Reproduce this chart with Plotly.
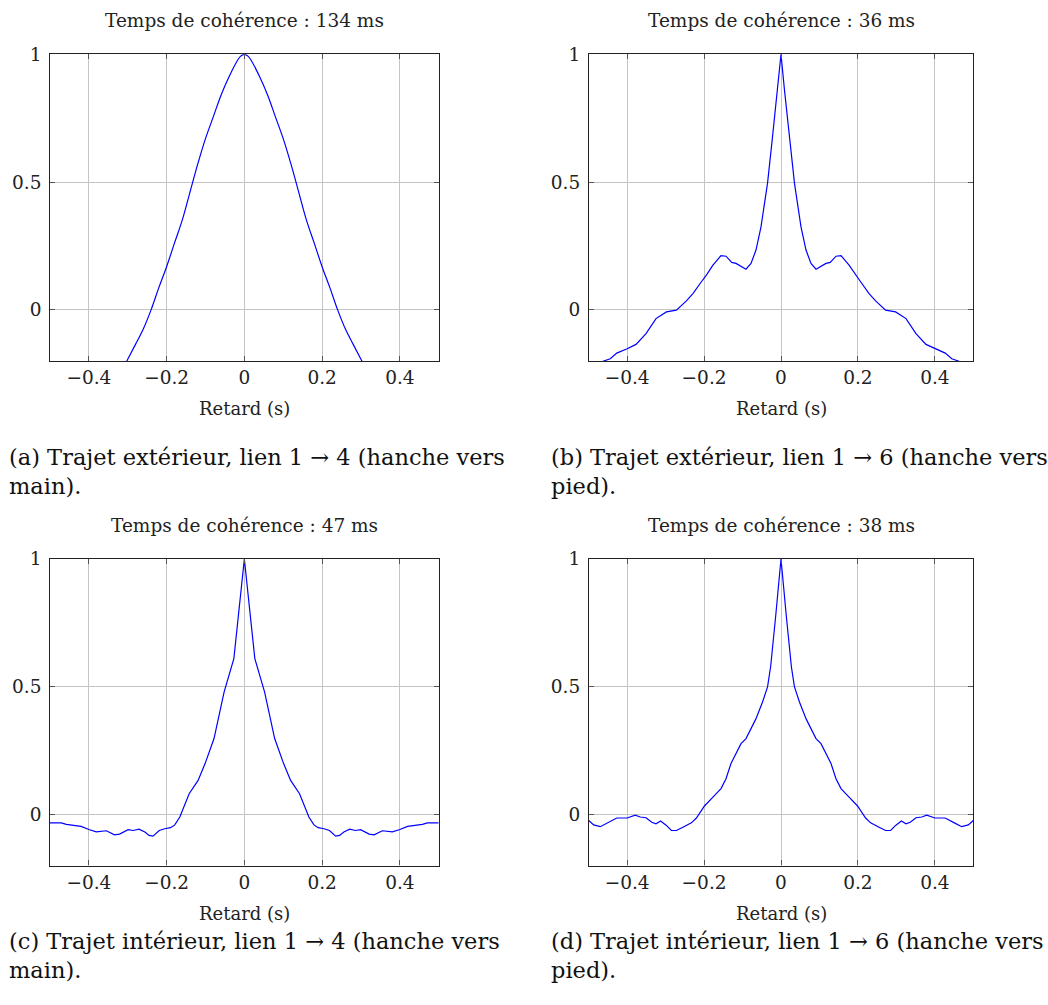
import plotly.graph_objects as go

W, H = 1048, 1005

# ---------------- data ----------------
xa = [-0.34, -0.32, -0.30, -0.28, -0.26, -0.24, -0.22, -0.20, -0.18, -0.16, -0.14, -0.12, -0.10, -0.08,
      -0.06, -0.04, -0.02, -0.01, 0.0, 0.01, 0.02, 0.04, 0.06, 0.08, 0.10, 0.12, 0.14, 0.16, 0.18, 0.20,
      0.22, 0.24, 0.26, 0.28, 0.30, 0.32, 0.34]
ya = [-0.30, -0.25, -0.193, -0.135, -0.075, 0.0, 0.087, 0.169, 0.26, 0.35, 0.46, 0.57, 0.67, 0.755,
      0.84, 0.91, 0.97, 0.992, 1.0, 0.992, 0.97, 0.91, 0.84, 0.755, 0.67, 0.57, 0.46, 0.35, 0.26, 0.169,
      0.087, 0.0, -0.075, -0.135, -0.193, -0.25, -0.30]

xb = [-0.48, -0.461, -0.444, -0.427, -0.40, -0.377, -0.351, -0.325, -0.298, -0.272, -0.246, -0.229,
      -0.207, -0.194, -0.177, -0.156, -0.143, -0.128, -0.117, -0.091, -0.078, -0.065, -0.052, -0.035,
      -0.022, -0.009, 0.0, 0.009, 0.022, 0.035, 0.052, 0.065, 0.078, 0.091, 0.117, 0.128, 0.143, 0.156,
      0.177, 0.194, 0.207, 0.229, 0.246, 0.272, 0.298, 0.325, 0.351, 0.377, 0.40, 0.427, 0.444, 0.461,
      0.48]
yb = [-0.215, -0.20, -0.191, -0.169, -0.152, -0.135, -0.093, -0.034, -0.008, -0.001, 0.035, 0.064,
      0.11, 0.136, 0.175, 0.212, 0.21, 0.186, 0.182, 0.159, 0.182, 0.234, 0.325, 0.496, 0.678, 0.861,
      1.0, 0.861, 0.678, 0.496, 0.325, 0.234, 0.182, 0.159, 0.182, 0.186, 0.21, 0.212, 0.175, 0.136,
      0.11, 0.064, 0.035, -0.001, -0.008, -0.034, -0.093, -0.135, -0.152, -0.169, -0.191, -0.20,
      -0.215]

xc = [-0.50, -0.471, -0.458, -0.42, -0.40, -0.381, -0.355, -0.334, -0.321, -0.299, -0.286, -0.271,
      -0.256, -0.245, -0.235, -0.219, -0.205, -0.19, -0.179, -0.166, -0.142, -0.119, -0.101, -0.078,
      -0.052, -0.027, 0.0, 0.027, 0.052, 0.078, 0.101, 0.119, 0.142, 0.166, 0.179, 0.19, 0.205, 0.219,
      0.235, 0.245, 0.256, 0.271, 0.286, 0.299, 0.321, 0.334, 0.355, 0.381, 0.40, 0.42, 0.458, 0.471,
      0.50]
yc = [-0.033, -0.033, -0.039, -0.047, -0.059, -0.068, -0.064, -0.08, -0.077, -0.06, -0.063, -0.058,
      -0.069, -0.082, -0.085, -0.063, -0.056, -0.052, -0.041, -0.01, 0.081, 0.133, 0.199, 0.297,
      0.48, 0.61, 1.0, 0.61, 0.48, 0.297, 0.199, 0.133, 0.081, -0.01, -0.041, -0.052, -0.056, -0.063,
      -0.085, -0.082, -0.069, -0.058, -0.063, -0.06, -0.077, -0.08, -0.064, -0.068, -0.059, -0.047,
      -0.039, -0.033, -0.033]

xd = [-0.50, -0.487, -0.47, -0.452, -0.427, -0.40, -0.379, -0.366, -0.351, -0.336, -0.325, -0.313,
      -0.298, -0.285, -0.272, -0.255, -0.233, -0.22, -0.199, -0.177, -0.156, -0.143, -0.13, -0.104,
      -0.091, -0.065, -0.048, -0.035, -0.027, -0.014, 0.0, 0.014, 0.027, 0.035, 0.048, 0.065, 0.091,
      0.104, 0.13, 0.143, 0.156, 0.177, 0.199, 0.22, 0.233, 0.255, 0.272, 0.285, 0.298, 0.313, 0.325,
      0.336, 0.351, 0.366, 0.379, 0.40, 0.427, 0.452, 0.47, 0.487, 0.50]
yd = [-0.024, -0.041, -0.048, -0.034, -0.014, -0.014, -0.003, -0.01, -0.013, -0.031, -0.037, -0.026,
      -0.043, -0.063, -0.063, -0.05, -0.033, -0.014, 0.033, 0.068, 0.101, 0.14, 0.199, 0.277, 0.297,
      0.375, 0.44, 0.499, 0.578, 0.774, 1.0, 0.774, 0.578, 0.499, 0.44, 0.375, 0.297, 0.277, 0.199,
      0.14, 0.101, 0.068, 0.033, -0.014, -0.033, -0.05, -0.063, -0.063, -0.043, -0.026, -0.037,
      -0.031, -0.013, -0.01, -0.003, -0.014, -0.014, -0.034, -0.048, -0.041, -0.024]

titles = ["Temps de cohérence : 134 ms", "Temps de cohérence : 36 ms",
          "Temps de cohérence : 47 ms", "Temps de cohérence : 38 ms"]
captions = [("(a) Trajet extérieur, lien 1 → 4 (hanche vers", "main)."),
            ("(b) Trajet extérieur, lien 1 → 6 (hanche vers", "pied)."),
            ("(c) Trajet intérieur, lien 1 → 4 (hanche vers", "main)."),
            ("(d) Trajet intérieur, lien 1 → 6 (hanche vers", "pied).")]
x_label = "Retard (s)"
x_ticks = [-0.4, -0.2, 0, 0.2, 0.4]
x_ticktext = ["−0.4", "−0.2", "0", "0.2", "0.4"]
y_ticks = [0, 0.5, 1]
y_ticktext = ["0", "0.5", "1"]

series = [(xa, ya), (xb, yb), (xc, yc), (xd, yd)]
smooth = [True, False, False, False]

# ---------------- layout (pixels) ----------------
cols = [(50.0, 438.7), (588.7, 973.3)]
rows = [(54.3, 361.0), (559.0, 865.5)]
cap_left = [7, 549]

TXT_FONT = "DejaVu Serif"
TICK_FONT = "DejaVu Serif"

def px(x):
    return x / W

def py(y):
    return 1 - y / H

fig = go.Figure()
annotations = []
layout = {}
for i, (xs, ys) in enumerate(series):
    r, c = divmod(i, 2)
    x0, x1 = cols[c]
    y0, y1 = rows[r]
    n = "" if i == 0 else str(i + 1)
    line = dict(color="#0000ff", width=1.2)
    if smooth[i]:
        line.update(shape="spline", smoothing=1.0)
    fig.add_trace(go.Scatter(x=xs, y=ys, mode="lines", line=line,
                             xaxis="x" + n, yaxis="y" + n, showlegend=False,
                             hoverinfo="skip"))
    common = dict(showline=True, linecolor="#222222", linewidth=1.2, mirror="allticks",
                  ticks="inside", ticklen=5, tickcolor="#555555", tickwidth=1,
                  showgrid=True, gridcolor="#c4c4c4", gridwidth=1, zeroline=False,
                  automargin=False,
                  tickfont=dict(family=TICK_FONT, size=18.5, color="#222222"))
    layout["xaxis" + n] = dict(domain=[px(x0), px(x1)], range=[-0.5, 0.5],
                               anchor="y" + n, tickmode="array", tickvals=x_ticks,
                               ticktext=x_ticktext, **common)
    layout["yaxis" + n] = dict(domain=[py(y1), py(y0)], range=[-0.2, 1.0],
                               anchor="x" + n, tickmode="array", tickvals=y_ticks,
                               ticktext=[t + "\u2009" for t in y_ticktext], **common)
    cx = (x0 + x1) / 2
    annotations.append(dict(text=titles[i], x=px(cx), y=py(y0 - 34), xref="paper", yref="paper",
                            xanchor="center", yanchor="middle", showarrow=False,
                            font=dict(family=TXT_FONT, size=18.5, color="#222222")))
    annotations.append(dict(text=x_label, x=px(cx), y=py(y1 + 48), xref="paper", yref="paper",
                            xanchor="center", yanchor="middle", showarrow=False,
                            font=dict(family=TXT_FONT, size=18, color="#222222")))
    l1, l2 = captions[i]
    base = 457 if r == 0 else 941
    annotations.append(dict(text=l1, x=px(cap_left[c]), y=py(base), xref="paper", yref="paper",
                            xanchor="left", yanchor="middle", showarrow=False,
                            font=dict(family=TXT_FONT, size=22.5, color="#111111")))
    annotations.append(dict(text=l2, x=px(cap_left[c]), y=py(base + 29), xref="paper", yref="paper",
                            xanchor="left", yanchor="middle", showarrow=False,
                            font=dict(family=TXT_FONT, size=22.5, color="#111111")))

fig.update_layout(width=W, height=H,
                  margin=dict(l=0, r=0, t=0, b=0, pad=0, autoexpand=False),
                  paper_bgcolor="white", plot_bgcolor="white",
                  annotations=annotations, **layout)
fig.write_html("out.html", config={"displayModeBar": False},
               post_script="document.body.style.margin='0';document.body.style.padding='0';"
                           "document.body.style.overflow='hidden';")
